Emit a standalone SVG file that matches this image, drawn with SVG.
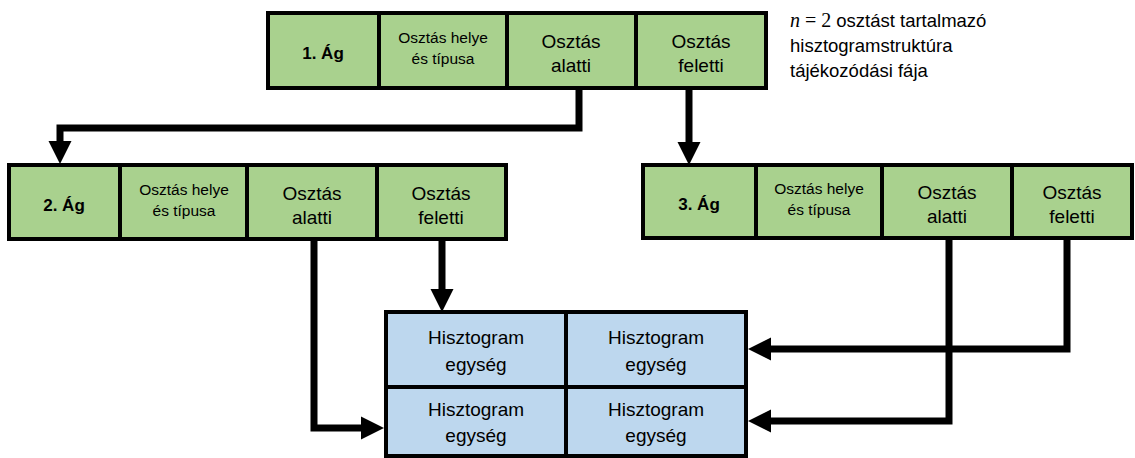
<svg xmlns="http://www.w3.org/2000/svg" width="1135" height="458" viewBox="0 0 1135 458">
<style>
.g{fill:#A9D18E;stroke:#000;stroke-width:4}
.b{fill:#BDD7EE;stroke:#000;stroke-width:4}
text{font-family:"Liberation Sans",Arial,sans-serif;fill:#000;text-anchor:middle}
.bold{font-weight:bold;font-size:17px}
.sm{font-size:15.5px}
.md{font-size:19px}
.note{font-size:18.5px;text-anchor:start}
.c{fill:none;stroke:#000;stroke-width:7;stroke-linejoin:miter}
</style>
<defs>
<marker id="ah" markerUnits="userSpaceOnUse" viewBox="0 -12 23 24" markerWidth="23" markerHeight="24" refX="1" refY="0" orient="auto">
<path d="M0,-11.5 L23,0 L0,11.5 z" fill="#000"/>
</marker>
</defs>
<rect width="1135" height="458" fill="#fff"/>
<g id="connectors">
<path class="c" d="M579,88 V128 H60 V142" marker-end="url(#ah)"/>
<path class="c" d="M689,88 V143" marker-end="url(#ah)"/>
<path class="c" d="M314,239 V428 H362" marker-end="url(#ah)"/>
<path class="c" d="M442,239 V290" marker-end="url(#ah)"/>
<path class="c" d="M949,238 V421 H770" marker-end="url(#ah)"/>
<path class="c" d="M1067,238 V349 H770" marker-end="url(#ah)"/>
</g>
<g id="branch1">
<g id="b1-label"><rect class="g" x="268" y="13" width="111" height="75"/><text class="bold" x="323" y="59">1. Ág</text></g>
<g id="b1-split"><rect class="g" x="379" y="13" width="128" height="75"/><text class="sm" x="443" y="43">Osztás helye</text><text class="sm" x="443" y="64">és típusa</text></g>
<g id="b1-below"><rect class="g" x="507" y="13" width="129" height="75"/><text class="md" x="571" y="48">Osztás</text><text class="md" x="571" y="72">alatti</text></g>
<g id="b1-above"><rect class="g" x="636" y="13" width="130" height="75"/><text class="md" x="701" y="48">Osztás</text><text class="md" x="701" y="72">feletti</text></g>
</g>
<g id="branch2">
<g id="b2-label"><rect class="g" x="9" y="165" width="111" height="74"/><text class="bold" x="64" y="211">2. Ág</text></g>
<g id="b2-split"><rect class="g" x="120" y="165" width="127" height="74"/><text class="sm" x="184" y="195">Osztás helye</text><text class="sm" x="184" y="216">és típusa</text></g>
<g id="b2-below"><rect class="g" x="247" y="165" width="130" height="74"/><text class="md" x="312" y="200">Osztás</text><text class="md" x="312" y="224">alatti</text></g>
<g id="b2-above"><rect class="g" x="377" y="165" width="129" height="74"/><text class="md" x="441" y="200">Osztás</text><text class="md" x="441" y="224">feletti</text></g>
</g>
<g id="branch3">
<g id="b3-label"><rect class="g" x="643" y="165" width="113" height="73"/><text class="bold" x="699" y="210">3. Ág</text></g>
<g id="b3-split"><rect class="g" x="756" y="165" width="126" height="73"/><text class="sm" x="819" y="194">Osztás helye</text><text class="sm" x="819" y="215">és típusa</text></g>
<g id="b3-below"><rect class="g" x="882" y="165" width="130" height="73"/><text class="md" x="947" y="199">Osztás</text><text class="md" x="947" y="223">alatti</text></g>
<g id="b3-above"><rect class="g" x="1012" y="165" width="120" height="73"/><text class="md" x="1072" y="199">Osztás</text><text class="md" x="1072" y="223">feletti</text></g>
</g>
<g id="histogram">
<g id="h11"><rect class="b" x="386" y="312" width="180" height="75"/><text class="md" x="476" y="344">Hisztogram</text><text class="md" x="476" y="371">egység</text></g>
<g id="h12"><rect class="b" x="566" y="312" width="180" height="75"/><text class="md" x="656" y="344">Hisztogram</text><text class="md" x="656" y="371">egység</text></g>
<g id="h21"><rect class="b" x="386" y="387" width="180" height="69"/><text class="md" x="476" y="416">Hisztogram</text><text class="md" x="476" y="442">egység</text></g>
<g id="h22"><rect class="b" x="566" y="387" width="180" height="69"/><text class="md" x="656" y="416">Hisztogram</text><text class="md" x="656" y="442">egység</text></g>
</g>
<g id="note">
<text class="note" x="790" y="27"><tspan font-family="'Liberation Serif','DejaVu Serif',serif" font-style="italic" font-size="20px">n</tspan><tspan font-family="'Liberation Serif','DejaVu Serif',serif" font-size="20px"> = 2 </tspan>osztást tartalmazó</text>
<text class="note" x="790" y="52">hisztogramstruktúra</text>
<text class="note" x="790" y="77">tájékozódási fája</text>
</g>
</svg>
